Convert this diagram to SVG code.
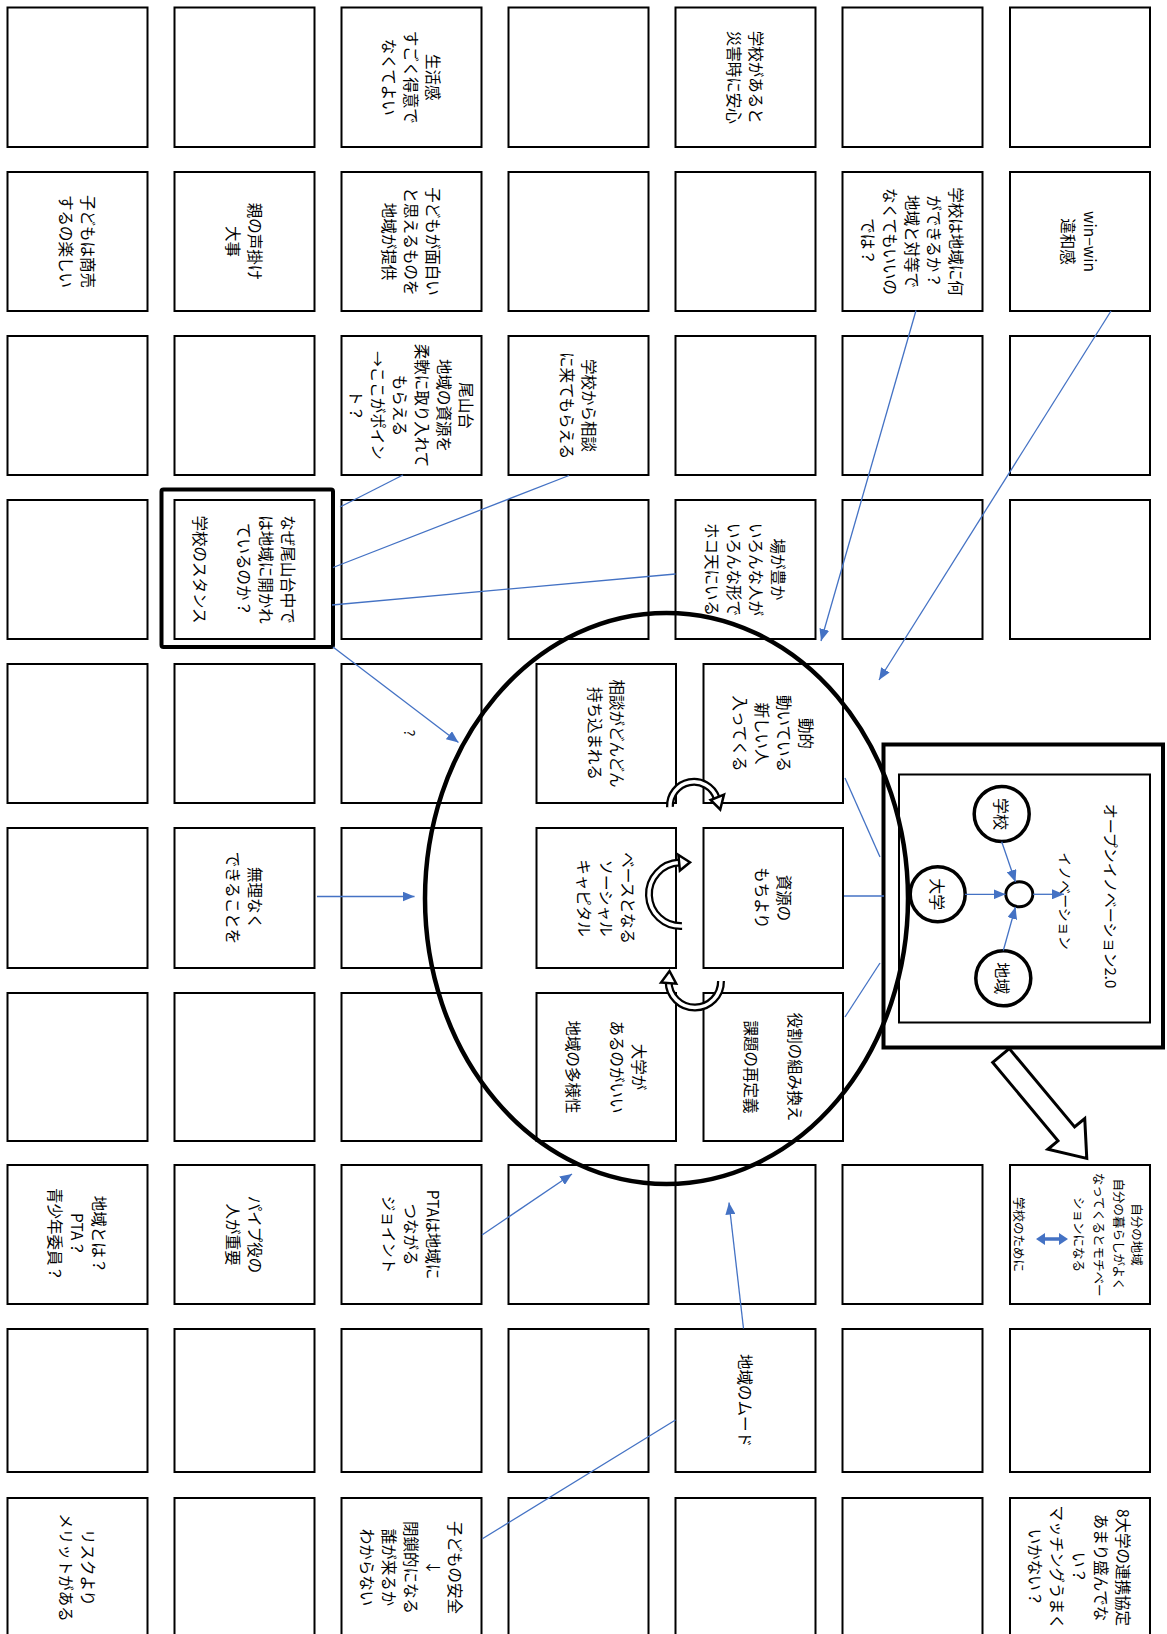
<svg xmlns="http://www.w3.org/2000/svg" width="1167" height="1634" viewBox="0 0 1167 1634">
<defs>
<style>
.box{fill:#fff;stroke:#000;stroke-width:2}
.t{font-family:"Noto Sans CJK JP","Noto Sans CJK SC",sans-serif;font-size:15.5px;fill:#000;text-anchor:middle;dominant-baseline:central}
.s{font-size:12.5px}
.conn{stroke:#4472C4;stroke-width:1.3;fill:none}
.circ{fill:#fff;stroke:#000;stroke-width:3.5}
.arcO{fill:none;stroke:#000;stroke-width:8}
.arcI{fill:none;stroke:#fff;stroke-width:3.5}
.ahd{fill:#fff;stroke:#000;stroke-width:2.5;stroke-linejoin:miter}
</style>
<marker id="ah" viewBox="0 0 12 10" refX="12" refY="5" markerWidth="12" markerHeight="10" markerUnits="userSpaceOnUse" orient="auto"><path d="M0,0 L12,5 L0,10 z" fill="#4472C4"/></marker>
</defs>
<rect width="1167" height="1634" fill="#fff"/>

<!-- Row 1 -->
<g id="n-r1c1"><rect class="box" x="7.5" y="7.5" width="140" height="139.5"/></g>
<g id="n-r1c2"><rect class="box" x="174.5" y="7.5" width="140" height="139.5"/></g>
<g id="n-r1c3"><rect class="box" x="341.5" y="7.5" width="140" height="139.5"/>
<text class="t" transform="translate(411.5,77.25) rotate(90)"><tspan x="0" y="-22">生活感</tspan><tspan x="0" y="0">すごく得意で</tspan><tspan x="0" y="22">なくてよい</tspan></text></g>
<g id="n-r1c4"><rect class="box" x="508.5" y="7.5" width="140" height="139.5"/></g>
<g id="n-r1c5"><rect class="box" x="675.5" y="7.5" width="140" height="139.5"/>
<text class="t" transform="translate(745.5,77.25) rotate(90)"><tspan x="0" y="-11">学校があると</tspan><tspan x="0" y="11">災害時に安心</tspan></text></g>
<g id="n-r1c6"><rect class="box" x="842.5" y="7.5" width="140" height="139.5"/></g>
<g id="n-r1c7"><rect class="box" x="1010" y="7.5" width="140" height="139.5"/></g>

<!-- Row 2 -->
<g id="n-r2c1"><rect class="box" x="7.5" y="172" width="140" height="139"/>
<text class="t" transform="translate(77.5,241.5) rotate(90)"><tspan x="0" y="-11">子どもは商売</tspan><tspan x="0" y="11">するの楽しい</tspan></text></g>
<g id="n-r2c2"><rect class="box" x="174.5" y="172" width="140" height="139"/>
<text class="t" transform="translate(244.5,241.5) rotate(90)"><tspan x="0" y="-11">親の声掛け</tspan><tspan x="0" y="11">大事</tspan></text></g>
<g id="n-r2c3"><rect class="box" x="341.5" y="172" width="140" height="139"/>
<text class="t" transform="translate(411.5,241.5) rotate(90)"><tspan x="0" y="-22">子どもが面白い</tspan><tspan x="0" y="0">と思えるものを</tspan><tspan x="0" y="22">地域が提供</tspan></text></g>
<g id="n-r2c4"><rect class="box" x="508.5" y="172" width="140" height="139"/></g>
<g id="n-r2c5"><rect class="box" x="675.5" y="172" width="140" height="139"/></g>
<g id="n-r2c6"><rect class="box" x="842.5" y="172" width="140" height="139"/>
<text class="t" transform="translate(912.5,241.5) rotate(90)"><tspan x="0" y="-44">学校は地域に何</tspan><tspan x="0" y="-22">ができるか？</tspan><tspan x="0" y="0">地域と対等で</tspan><tspan x="0" y="22">なくてもいいの</tspan><tspan x="0" y="44">では？</tspan></text></g>
<g id="n-r2c7"><rect class="box" x="1010" y="172" width="140" height="139"/>
<text class="t" transform="translate(1080,241.5) rotate(90)"><tspan x="0" y="-11">win−win</tspan><tspan x="0" y="11">違和感</tspan></text></g>

<!-- Row 3 -->
<g id="n-r3c1"><rect class="box" x="7.5" y="336" width="140" height="139"/></g>
<g id="n-r3c2"><rect class="box" x="174.5" y="336" width="140" height="139"/></g>
<g id="n-r3c3"><rect class="box" x="341.5" y="336" width="140" height="139"/>
<text class="t" transform="translate(411.5,405.5) rotate(90)"><tspan x="0" y="-55">尾山台</tspan><tspan x="0" y="-33">地域の資源を</tspan><tspan x="0" y="-11">柔軟に取り入れて</tspan><tspan x="0" y="11">もらえる</tspan><tspan x="0" y="33">→ここがポイン</tspan><tspan x="0" y="55">ト？</tspan></text></g>
<g id="n-r3c4"><rect class="box" x="508.5" y="336" width="140" height="139"/>
<text class="t" transform="translate(578.5,405.5) rotate(90)"><tspan x="0" y="-11">学校から相談</tspan><tspan x="0" y="11">に来てもらえる</tspan></text></g>
<g id="n-r3c5"><rect class="box" x="675.5" y="336" width="140" height="139"/></g>
<g id="n-r3c6"><rect class="box" x="842.5" y="336" width="140" height="139"/></g>
<g id="n-r3c7"><rect class="box" x="1010" y="336" width="140" height="139"/></g>

<!-- Row 4 -->
<g id="n-r4c1"><rect class="box" x="7.5" y="500" width="140" height="139"/></g>
<g id="n-r4c2"><rect x="161.5" y="489.5" width="171.5" height="157.5" rx="2" fill="#fff" stroke="#000" stroke-width="4"/><rect class="box" x="174.5" y="500" width="140" height="139"/>
<text class="t" transform="translate(244.5,569.5) rotate(90)"><tspan x="0" y="-44">なぜ尾山台中で</tspan><tspan x="0" y="-22">は地域に開かれ</tspan><tspan x="0" y="0">ているのか？</tspan><tspan x="0" y="44">学校のスタンス</tspan></text></g>
<g id="n-r4c3"><rect class="box" x="341.5" y="500" width="140" height="139"/></g>
<g id="n-r4c4"><rect class="box" x="508.5" y="500" width="140" height="139"/></g>
<g id="n-r4c5"><rect class="box" x="675.5" y="500" width="140" height="139"/>
<text class="t" transform="translate(745.5,569.5) rotate(90)"><tspan x="0" y="-33">場が豊か</tspan><tspan x="0" y="-11">いろんな人が</tspan><tspan x="0" y="11">いろんな形で</tspan><tspan x="0" y="33">ホコ天にいる</tspan></text></g>
<g id="n-r4c6"><rect class="box" x="842.5" y="500" width="140" height="139"/></g>
<g id="n-r4c7"><rect class="box" x="1010" y="500" width="140" height="139"/></g>

<!-- Row 5 -->
<g id="n-r5c1"><rect class="box" x="7.5" y="664" width="140" height="139"/></g>
<g id="n-r5c2"><rect class="box" x="174.5" y="664" width="140" height="139"/></g>
<g id="n-r5c3"><rect class="box" x="341.5" y="664" width="140" height="139"/></g>
<g id="n-r5c4"><rect class="box" x="536.5" y="664" width="139.5" height="139"/>
<text class="t" transform="translate(606.5,733.5) rotate(90)"><tspan x="0" y="-11">相談がどんどん</tspan><tspan x="0" y="11">持ち込まれる</tspan></text></g>
<g id="n-r5c5"><rect class="box" x="703.5" y="664" width="139.5" height="139"/>
<text class="t" transform="translate(773.5,733.5) rotate(90)"><tspan x="0" y="-33">動的</tspan><tspan x="0" y="-11">動いている</tspan><tspan x="0" y="11">新しい人</tspan><tspan x="0" y="33">入ってくる</tspan></text></g>

<!-- Row 6 -->
<g id="n-r6c1"><rect class="box" x="7.5" y="828" width="140" height="140"/></g>
<g id="n-r6c2"><rect class="box" x="174.5" y="828" width="140" height="140"/>
<text class="t" transform="translate(244.5,898) rotate(90)"><tspan x="0" y="-11">無理なく</tspan><tspan x="0" y="11">できることを</tspan></text></g>
<g id="n-r6c3"><rect class="box" x="341.5" y="828" width="140" height="140"/></g>
<g id="n-r6c4"><rect class="box" x="536.5" y="828" width="139.5" height="140"/>
<text class="t" transform="translate(606.5,898) rotate(90)"><tspan x="0" y="-22">ベースとなる</tspan><tspan x="0" y="0">ソーシャル</tspan><tspan x="0" y="22">キャピタル</tspan></text></g>
<g id="n-r6c5"><rect class="box" x="703.5" y="828" width="139.5" height="140"/>
<text class="t" transform="translate(773.5,898) rotate(90)"><tspan x="0" y="-11">資源の</tspan><tspan x="0" y="11">もちより</tspan></text></g>

<!-- Row 7 -->
<g id="n-r7c1"><rect class="box" x="7.5" y="993" width="140" height="148"/></g>
<g id="n-r7c2"><rect class="box" x="174.5" y="993" width="140" height="148"/></g>
<g id="n-r7c3"><rect class="box" x="341.5" y="993" width="140" height="148"/></g>
<g id="n-r7c4"><rect class="box" x="536.5" y="993" width="139.5" height="148"/>
<text class="t" transform="translate(606.5,1067) rotate(90)"><tspan x="0" y="-33">大学が</tspan><tspan x="0" y="-11">あるのがいい</tspan><tspan x="0" y="33">地域の多様性</tspan></text></g>
<g id="n-r7c5"><rect class="box" x="703.5" y="993" width="139.5" height="148"/>
<text class="t" transform="translate(773.5,1067) rotate(90)"><tspan x="0" y="-22">役割の組み換え</tspan><tspan x="0" y="22">課題の再定義</tspan></text></g>

<!-- Row 8 -->
<g id="n-r8c1"><rect class="box" x="7.5" y="1165" width="140" height="139"/>
<text class="t" transform="translate(77.5,1234.5) rotate(90)"><tspan x="0" y="-22">地域とは？</tspan><tspan x="0" y="0">PTA？</tspan><tspan x="0" y="22">青少年委員？</tspan></text></g>
<g id="n-r8c2"><rect class="box" x="174.5" y="1165" width="140" height="139"/>
<text class="t" transform="translate(244.5,1234.5) rotate(90)"><tspan x="0" y="-11">パイプ役の</tspan><tspan x="0" y="11">人が重要</tspan></text></g>
<g id="n-r8c3"><rect class="box" x="341.5" y="1165" width="140" height="139"/>
<text class="t" transform="translate(411.5,1234.5) rotate(90)"><tspan x="0" y="-22">PTAは地域に</tspan><tspan x="0" y="0">つながる</tspan><tspan x="0" y="22">ジョイント</tspan></text></g>
<g id="n-r8c4"><rect class="box" x="508.5" y="1165" width="140" height="139"/></g>
<g id="n-r8c5"><rect class="box" x="675.5" y="1165" width="140" height="139"/></g>
<g id="n-r8c6"><rect class="box" x="842.5" y="1165" width="140" height="139"/></g>
<g id="n-r8c7"><rect class="box" x="1010" y="1165" width="140" height="139"/>
<text class="t s" transform="translate(1080,1234.5) rotate(90)"><tspan x="0" y="-58">自分の地域</tspan><tspan x="0" y="-39.5">自分の暮らしがよく</tspan><tspan x="0" y="-20">なってくるとモチベー</tspan><tspan x="0" y="0">ションになる</tspan><tspan x="0" y="60">学校のために</tspan></text>
<path d="M1036,1239 L1045,1233 L1045,1237.3 L1059,1237.3 L1059,1233 L1068,1239 L1059,1245 L1059,1240.7 L1045,1240.7 L1045,1245 Z" fill="#4472C4"/></g>

<!-- Row 9 -->
<g id="n-r9c1"><rect class="box" x="7.5" y="1329" width="140" height="143"/></g>
<g id="n-r9c2"><rect class="box" x="174.5" y="1329" width="140" height="143"/></g>
<g id="n-r9c3"><rect class="box" x="341.5" y="1329" width="140" height="143"/></g>
<g id="n-r9c4"><rect class="box" x="508.5" y="1329" width="140" height="143"/></g>
<g id="n-r9c5"><rect class="box" x="675.5" y="1329" width="140" height="143"/>
<text class="t" transform="translate(745.5,1400.5) rotate(90)"><tspan x="0" y="0">地域のムード</tspan></text></g>
<g id="n-r9c6"><rect class="box" x="842.5" y="1329" width="140" height="143"/></g>
<g id="n-r9c7"><rect class="box" x="1010" y="1329" width="140" height="143"/></g>

<!-- Row 10 -->
<g id="n-r10c1"><rect class="box" x="7.5" y="1498" width="140" height="139"/>
<text class="t" transform="translate(77.5,1567.5) rotate(90)"><tspan x="0" y="-11">リスクより</tspan><tspan x="0" y="11">メリットがある</tspan></text></g>
<g id="n-r10c2"><rect class="box" x="174.5" y="1498" width="140" height="139"/></g>
<g id="n-r10c3"><rect class="box" x="341.5" y="1498" width="140" height="139"/>
<text class="t" transform="translate(411.5,1567.5) rotate(90)"><tspan x="0" y="-44">子どもの安全</tspan><tspan x="0" y="-22">↓</tspan><tspan x="0" y="0">閉鎖的になる</tspan><tspan x="0" y="22">誰が来るか</tspan><tspan x="0" y="44">わからない</tspan></text></g>
<g id="n-r10c4"><rect class="box" x="508.5" y="1498" width="140" height="139"/></g>
<g id="n-r10c5"><rect class="box" x="675.5" y="1498" width="140" height="139"/></g>
<g id="n-r10c6"><rect class="box" x="842.5" y="1498" width="140" height="139"/></g>
<g id="n-r10c7"><rect class="box" x="1010" y="1498" width="140" height="139"/>
<text class="t" transform="translate(1080,1567.5) rotate(90)"><tspan x="0" y="-44">8大学の連携協定</tspan><tspan x="0" y="-22">あまり盛んでな</tspan><tspan x="0" y="0">い？</tspan><tspan x="0" y="22">マッチングうまく</tspan><tspan x="0" y="44">いかない？</tspan></text></g>

<!-- Fat hollow arrow -->
<g id="n-fatarrow"><polygon points="0,-10.8 102,-10.8 102,-24 134,0 102,24 102,10.8 0,10.8" transform="translate(1001,1055.5) rotate(50.2)" fill="#fff" stroke="#000" stroke-width="3" stroke-linejoin="miter"/></g>

<!-- Open innovation box -->
<g id="n-openinnovation">
<rect x="883.5" y="744.5" width="279.5" height="303" fill="#fff" stroke="#000" stroke-width="4"/>
<rect x="899" y="774.5" width="251" height="248" fill="#fff" stroke="#000" stroke-width="2"/>
<text class="t" style="font-size:15px" transform="translate(1111.5,896) rotate(90)">オープンイノベーション2.0</text>
<text class="t" style="font-size:14px" transform="translate(1066,901) rotate(90)">イノベーション</text>
<g id="n-school"><circle class="circ" cx="1001.7" cy="814" r="27.5"/><text class="t" style="font-size:16px" transform="translate(1001.7,814) rotate(90)">学校</text></g>
<g id="n-univ"><circle class="circ" cx="937.7" cy="894.3" r="27.5"/><text class="t" style="font-size:16px" transform="translate(937.7,894.3) rotate(90)">大学</text></g>
<g id="n-region"><circle class="circ" cx="1003.3" cy="978.3" r="27.5"/><text class="t" style="font-size:16px" transform="translate(1003.3,978.3) rotate(90)">地域</text></g>
<g id="n-hub"><ellipse cx="1019.3" cy="894.3" rx="13.5" ry="12.5" fill="#fff" stroke="#000" stroke-width="3"/></g>
</g>

<!-- Big ellipse -->
<g id="n-ellipse"><ellipse cx="666.5" cy="898.5" rx="241.5" ry="285.5" fill="none" stroke="#000" stroke-width="4.5"/></g>

<!-- Curved cycle arrows -->
<g id="n-cycle">
<path class="arcO" d="M670,807 A24,24 0 0 1 716.6,797.8"/>
<path class="arcI" d="M670,807 A24,24 0 0 1 716.6,797.8"/>
<polygon class="ahd" points="724,794.6 710.6,800 720.2,809.5"/>
<path class="arcO" d="M682,926 A31.5,31.5 0 0 1 679.3,862.6"/>
<path class="arcI" d="M682,926 A31.5,31.5 0 0 1 679.3,862.6"/>
<polygon class="ahd" points="678.4,855 679.9,870.5 690,862.3"/>
<path class="arcO" d="M721,981 A26,26 0 1 1 668.6,981.6"/>
<path class="arcI" d="M721,981 A26,26 0 1 1 668.6,981.6"/>
<polygon class="ahd" points="661,982.6 676.2,983.7 669.5,971"/>
</g>

<!-- Connectors -->
<g id="connectors">
<line class="conn" x1="403" y1="475" x2="340" y2="507"/>
<line class="conn" x1="569" y1="475.5" x2="333" y2="567.5"/>
<line class="conn" x1="675.5" y1="574" x2="332" y2="605"/>
<line class="conn" x1="333" y1="647" x2="458.5" y2="742.5" marker-end="url(#ah)"/>
<line class="conn" x1="317" y1="896.5" x2="414.5" y2="896.5" marker-end="url(#ah)"/>
<line class="conn" x1="916" y1="310.5" x2="821" y2="641" marker-end="url(#ah)"/>
<line class="conn" x1="1111" y1="311" x2="879" y2="680" marker-end="url(#ah)"/>
<line class="conn" x1="845" y1="778" x2="880" y2="857"/>
<line class="conn" x1="844" y1="896" x2="884" y2="896"/>
<line class="conn" x1="845" y1="1017" x2="880" y2="963"/>
<line class="conn" x1="482" y1="1235" x2="572" y2="1174" marker-end="url(#ah)"/>
<line class="conn" x1="743.5" y1="1328.5" x2="729" y2="1202.5" marker-end="url(#ah)"/>
<line class="conn" x1="482" y1="1539" x2="675.5" y2="1420"/>
<line class="conn" x1="1001.7" y1="841.7" x2="1015.5" y2="882" marker-end="url(#ah)"/>
<line class="conn" x1="965" y1="894.3" x2="1005.5" y2="894.3" marker-end="url(#ah)"/>
<line class="conn" x1="1003.3" y1="950.5" x2="1015.5" y2="907" marker-end="url(#ah)"/>
<line class="conn" x1="1033" y1="894.3" x2="1064" y2="894.3" marker-end="url(#ah)"/>
<text class="t" style="font-size:14px" transform="translate(410,733) rotate(90)">?</text>
</g>
</svg>
